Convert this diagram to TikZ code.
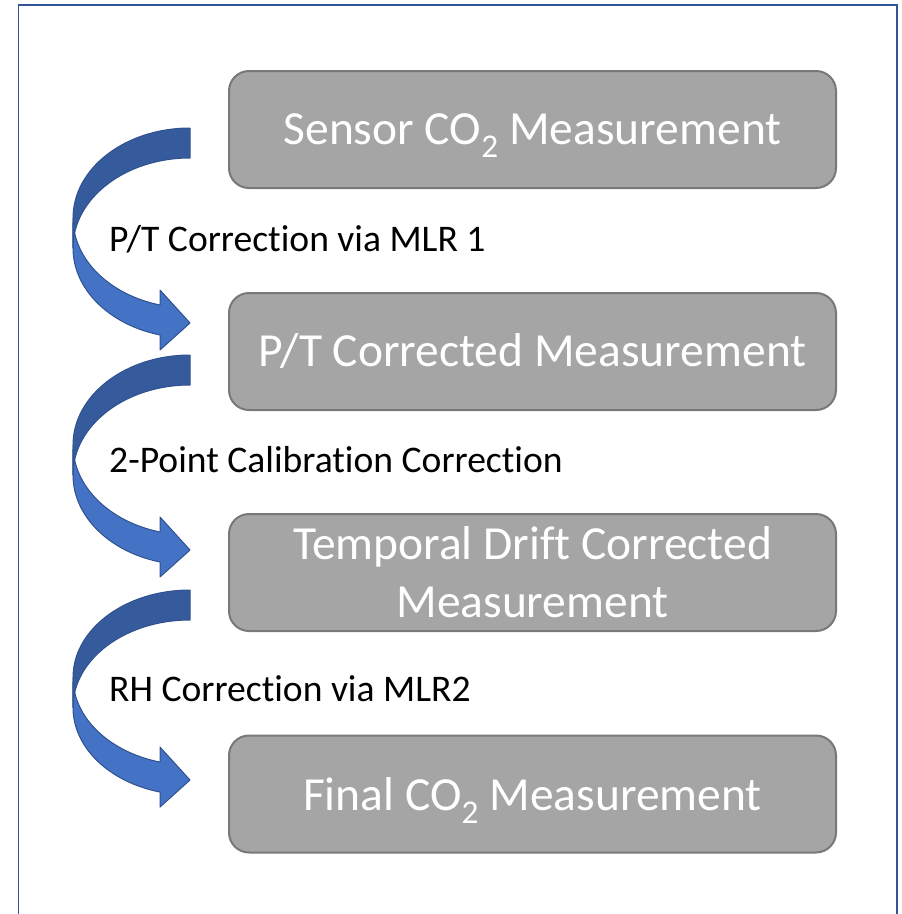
\documentclass[tikz,border=0pt]{standalone}
\usepackage{fontspec}
\setmainfont{Carlito}[RawFeature={-liga;-clig;-dlig;-rlig;-calt;-ccmp}]
\definecolor{frameblue}{HTML}{2F5597}
\definecolor{arrowlight}{HTML}{4472C4}
\definecolor{arrowdark}{HTML}{365B9D}
\definecolor{arrowline}{HTML}{2F528F}
\definecolor{boxfill}{HTML}{A5A5A5}
\definecolor{boxline}{HTML}{787878}

\def\AL{73}\def\AR{190}\def\AW{117}\def\ATH{30}\def\AAW{60}\def\AAH{30}
\pgfmathsetmacro{\Aalpha}{acos(\AAH/\AW)}
\newcommand{\curvarrow}[2]{%
  \pgfmathsetmacro{\Ahr}{#2/2-(\ATH+\AAW)/4}%
  \pgfmathsetmacro{\Ayfive}{#1+\Ahr+\Ahr*sin(\Aalpha)}%
  \pgfmathsetmacro{\Ayseven}{\Ayfive+\ATH}%
  \pgfmathsetmacro{\Adh}{(\AAW-\ATH)/2}%
  \pgfmathsetmacro{\Aysix}{#1+#2-\AAW/2}%
  \pgfmathsetmacro{\Axone}{\AR-\AAH}%
  \filldraw[arrowfront] (\AL,{-(#1+\Ahr)})
    arc[start angle=180, end angle={180+\Aalpha}, x radius=\AW, y radius=\Ahr]
    -- (\Axone,{-(\Ayfive-\Adh)}) -- (\AR,-\Aysix) -- (\Axone,{-(\Ayseven+\Adh)})
    -- (\Axone,-\Ayseven)
    arc[start angle={180+\Aalpha}, end angle=180, x radius=\AW, y radius=\Ahr]
    -- cycle;
  \filldraw[arrowback] (\AR,-#1)
    arc[start angle=90, end angle=180, x radius=\AW, y radius=\Ahr]
    -- (\AL,{-(#1+\Ahr+\ATH)})
    arc[start angle=180, end angle=90, x radius=\AW, y radius=\Ahr]
    -- cycle;
}

\begin{document}
\begin{tikzpicture}[x=1pt,y=1pt,
  frame/.style={draw=frameblue, line width=1.8pt},
  arrowfront/.style={fill=arrowlight, draw=arrowline, line width=1pt, line join=round},
  arrowback/.style={fill=arrowdark, draw=arrowline, line width=1pt, line join=round},
  stepbox/.style={rectangle, rounded corners=20pt, fill=boxfill, draw=boxline,
    line width=2pt, minimum width=607pt, minimum height=117pt, text=white,
    align=center, inner sep=0pt, font=\fontsize{47.5}{58}\selectfont},
  lbl/.style={anchor=base west, inner sep=0pt, text=black,
    font=\fontsize{37.6}{45}\selectfont}]
\useasboundingbox (0,0) rectangle (902,-914);
\draw[frame] (18.5,-930) -- (18.5,-5) -- (897,-5) -- (897,-930);

\curvarrow{128}{225}
\curvarrow{355}{225}
\curvarrow{590}{220}

\node[stepbox] (b1) at (532.5,-129.5) {Sensor \smash{CO\textsubscript{2}} Measurement};
\node[stepbox] (b2) at (532.5,-351.5) {P/T Corrected Measurement};
\node[stepbox] (b3) at (532.5,-572.5) {Temporal Drift Corrected\\Measurement};
\node[stepbox] (b4) at (532.5,-794) {Final \smash{CO\textsubscript{2}} Measurement};

\node[lbl] (l1) at (109,-251) {P/T Correct\kern0pt ion via MLR 1};
\node[lbl] (l2) at (109,-472) {2-Point Calibrat\kern0pt ion Correct\kern0pt ion};
\node[lbl] (l3) at (109,-701) {RH Correct\kern0pt ion via MLR2};
\end{tikzpicture}
\end{document}
